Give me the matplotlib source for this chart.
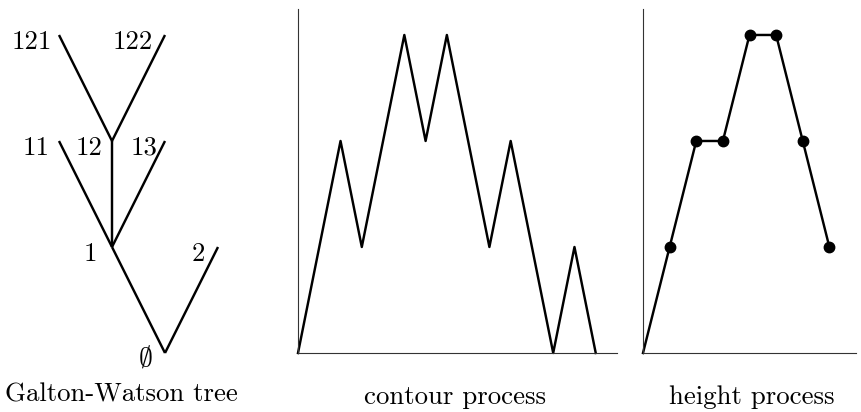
import matplotlib.pyplot as plt

plt.rcParams["mathtext.fontset"] = "cm"

# Galton-Watson tree: node positions (x, generation) and edges
tree_nodes = {
    "root": (0, 0), "1": (-1, 1), "2": (1, 1),
    "11": (-2, 2), "12": (-1, 2), "13": (0, 2),
    "121": (-2, 3), "122": (0, 3),
}
tree_edges = [("root", "1"), ("root", "2"), ("1", "11"), ("1", "12"),
              ("1", "13"), ("12", "121"), ("12", "122")]
tree_labels = ["1", "2", "11", "12", "13", "121", "122"]
# horizontal gap between a label and its node
label_gap = {"1": 0.28, "2": 0.25, "11": 0.17, "12": 0.17, "13": 0.15,
             "121": 0.13, "122": 0.23}

# contour process (one step per edge traversal)
contour = [0, 1, 2, 1, 2, 3, 2, 3, 2, 1, 2, 1, 0, 1, 0]
# height process (depth-first order of vertices)
height = [0, 1, 2, 2, 3, 3, 2, 1]

W, H = 861, 412
fig = plt.figure(figsize=(W / 100, H / 100), dpi=100)


def px_axes(left, right, top, bottom):
    return fig.add_axes([left / W, (H - bottom) / H, (right - left) / W, (bottom - top) / H])


lw = 1.75
fs = 19.3
serif = "cmr10"

# --- tree panel ---
ax = px_axes(0, 280, 0, 412)
ax.set_xlim(-165 / 53, 115 / 53)
ax.set_ylim(-59 / 106, 353 / 106)
for a, b in tree_edges:
    (x0, y0), (x1, y1) = tree_nodes[a], tree_nodes[b]
    ax.plot([x0, x1], [y0, y1], color="black", lw=lw, solid_capstyle="butt")
for name in tree_labels:
    x, y = tree_nodes[name]
    ax.text(x - label_gap[name], y - 0.065, name, ha="right", va="center",
            fontsize=fs, family=serif)
ax.text(-0.38, -0.04, r"$\emptyset$", ha="center", va="center", fontsize=20)
ax.axis("off")
fig.text(121 / W, 1 - 395 / H, "Galton-Watson tree", ha="center", va="center",
         fontsize=fs, family=serif)

# --- contour process ---
ax = px_axes(298, 617, 9, 353)
ax.plot(range(len(contour)), contour, color="black", lw=lw, clip_on=False)
ax.set_xlim(0, 15)
ax.set_ylim(0, 3.245)
fig.text(455 / W, 1 - 397 / H, "contour process", ha="center", va="center",
         fontsize=fs, family=serif)

# --- height process ---
ax = px_axes(643, 856, 9, 353)
ax.plot(range(len(height)), height, color="black", lw=lw, clip_on=False)
ax.plot(range(1, len(height)), height[1:], "o", color="black", ms=7.5,
        clip_on=False)
ax.set_xlim(0, 8)
ax.set_ylim(0, 3.245)
fig.text(752 / W, 1 - 397 / H, "height process", ha="center", va="center",
         fontsize=fs, family=serif)

for ax in fig.axes[1:]:
    for side in ["top", "right"]:
        ax.spines[side].set_visible(False)
    for side in ["left", "bottom"]:
        ax.spines[side].set_linewidth(0.8)
        ax.spines[side].set_color("#333333")
    ax.set_xticks([])
    ax.set_yticks([])

fig.savefig("out.png", dpi=100)
